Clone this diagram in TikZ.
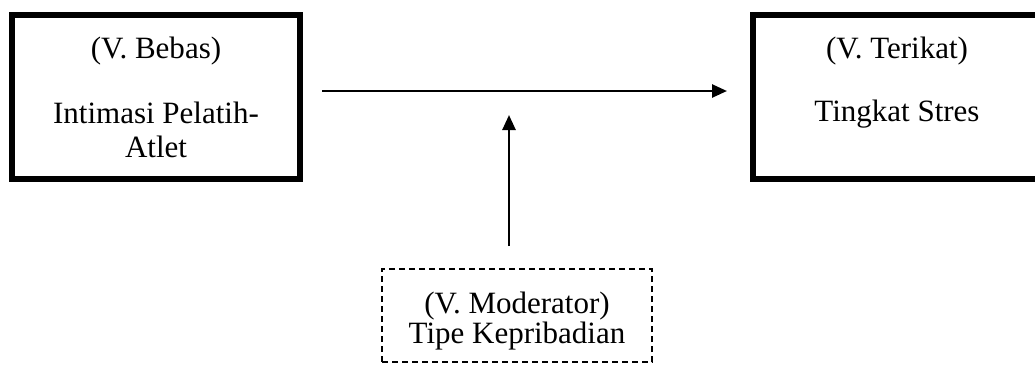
\documentclass[tikz,border=0pt]{standalone}
\usepackage{fontspec}
\setmainfont{Liberation Serif}
\usetikzlibrary{arrows.meta}
\begin{document}
\begin{tikzpicture}[x=1pt,y=-1pt,
  varbox/.style={draw, line width=6pt, minimum width=288pt, minimum height=164pt, inner sep=0pt},
  modbox/.style={draw, line width=1.5pt, dash pattern=on 6pt off 4pt, minimum width=270pt, minimum height=93pt, inner sep=0pt},
  label/.style={anchor=base, inner sep=0pt, font=\fontsize{31}{34}\selectfont},
  link/.style={line width=2.6pt, -{Triangle[length=15pt,width=13pt]}}]
  \useasboundingbox (0,0) rectangle (1035,365);
  \clip (0,0) rectangle (1035,365);

  % independent variable
  \node[varbox] (bebas) at (156,97) {};
  \node[label] (bebasT) at (156,58) {(V. Bebas)};
  \node[label] (bebasA) at (156,123) {Intimasi Pelatih-};
  \node[label] (bebasB) at (156,157) {Atlet};

  % dependent variable
  \node[varbox] (terikat) at (897,97) {};
  \node[label] (terikatT) at (897,58) {(V. Terikat)};
  \node[label] (terikatA) at (897,121) {Tingkat Stres};

  % moderator
  \node[modbox] (moderator) at (517,315.5) {};
  \node[label] (moderatorT) at (517,313) {(V. Moderator)};
  \node[label] (moderatorA) at (517,343) {Tipe Kepribadian};

  % connectors
  \coordinate (hstart) at (322,91);
  \coordinate (hend) at (727,91);
  \coordinate (vstart) at (509,246);
  \coordinate (vend) at (509,115);
  \draw[link] (hstart) -- (hend);
  \draw[link] (vstart) -- (vend);
\end{tikzpicture}
\end{document}
